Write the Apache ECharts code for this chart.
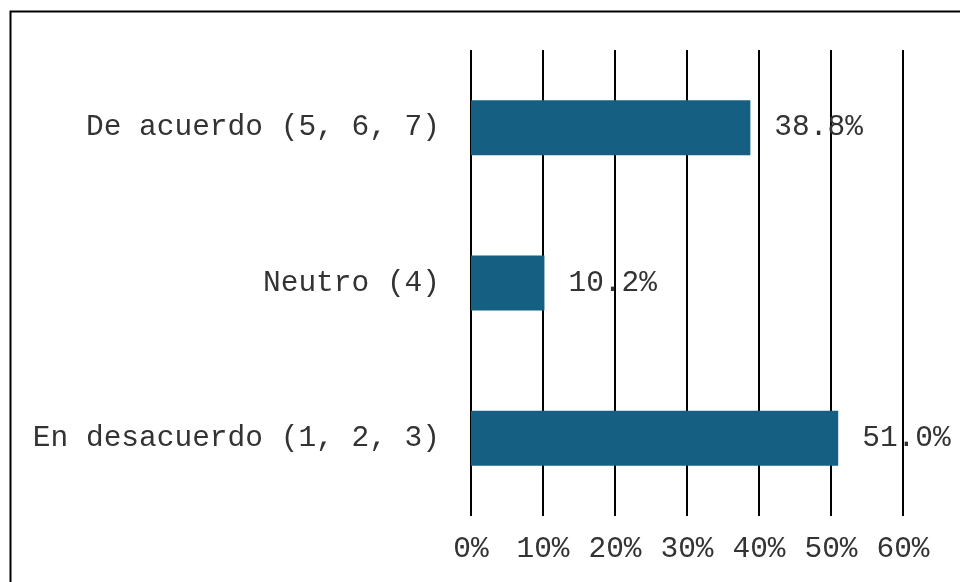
<!DOCTYPE html>
<html>
<head>
<meta charset="utf-8">
<script src="https://cdn.jsdelivr.net/npm/echarts@6/dist/echarts.min.js"></script>
<style>
html,body{margin:0;padding:0;background:#fff;}
#main{width:960px;height:582px;}
</style>
</head>
<body>
<div id="main"></div>
<script>
var categories = ['De acuerdo (5, 6, 7)', 'Neutro (4)', 'En desacuerdo (1, 2, 3)'];
var values = [38.8, 10.2, 51.0];
var tickMax = 60;
var tickStep = 10;

var font = 'Liberation Mono';
var chart = echarts.init(document.getElementById('main'));
chart.setOption({
  animation: false,
  backgroundColor: '#fff',
  graphic: [{
    type: 'rect', left: 8, top: 9, z: 100,
    shape: { width: 1000, height: 1000 },
    style: { fill: 'none', stroke: '#000', lineWidth: 2 }
  }],
  grid: { left: 471, right: 57, top: 50, bottom: 66 },
  xAxis: {
    type: 'value', min: 0, max: tickMax, interval: tickStep,
    axisLine: { show: false }, axisTick: { show: false },
    splitLine: { show: true, lineStyle: { color: '#000', width: 2 } },
    axisLabel: { formatter: '{value}%', color: '#333', fontFamily: font, fontSize: 29.5, margin: 18 }
  },
  yAxis: {
    type: 'category', data: categories, inverse: true,
    axisLine: { show: false }, axisTick: { show: false },
    axisLabel: { color: '#333', fontFamily: font, fontSize: 29.5, margin: 31 }
  },
  series: [{
    type: 'bar', data: values, barWidth: 55,
    itemStyle: { color: '#155f82' },
    label: {
      show: true, position: 'right', distance: 24,
      formatter: function (p) { return p.value.toFixed(1) + '%'; },
      color: '#333', fontFamily: font, fontSize: 29.5
    }
  }]
});
</script>
</body>
</html>
